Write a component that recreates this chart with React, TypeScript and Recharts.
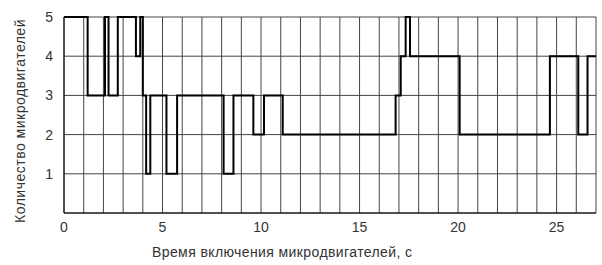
import { LineChart, Line, XAxis, YAxis, CartesianGrid } from 'recharts';

// switch-on times (s) and number of active micro-thrusters from that moment
const times = [0, 1.2, 2.08, 2.26, 2.73, 3.65, 3.87, 4.0, 4.17, 4.38, 5.2, 5.74, 8.1, 8.6, 9.61, 10.15, 11.1, 16.83, 17.09, 17.34, 17.56, 20.08, 24.66, 26.1, 26.57, 27];
const counts = [5, 3, 5, 3, 5, 4, 5, 3, 1, 3, 1, 3, 1, 3, 2, 3, 2, 3, 4, 5, 4, 2, 4, 2, 4, 4];

const xTicks = Array.from({ length: 28 }, (_, i) => i);
const yTicks = [1, 2, 3, 4, 5];

const xTitle = 'Время включения микродвигателей, с';
const yTitle = 'Количество микродвигателей';

const FONT = '"Liberation Sans", Arial, sans-serif';
const INK = '#333';

export default function App() {
  const data = times.map((t, i) => ({ t, n: counts[i] }));

  return (
    <div style={{ position: 'absolute', left: 0, top: 0, width: 602, height: 265, background: '#fff', fontFamily: FONT }}>
      <LineChart width={602} height={265} data={data} margin={{ top: 17, right: 6, bottom: 0, left: 0 }}>
        <CartesianGrid stroke="#444" strokeWidth={1} ticks={xTicks as any} />
        <XAxis
          dataKey="t"
          type="number"
          domain={[0, 27]}
          ticks={xTicks}
          interval={0}
          tickFormatter={(v: number) => (v % 5 === 0 ? String(v) : '')}
          height={52}
          tickLine={false}
          tickSize={0}
          tickMargin={9}
          axisLine={{ stroke: '#000' }}
          tick={{ fontSize: 14, fill: INK, fontFamily: FONT }}
        />
        <YAxis
          type="number"
          domain={[0, 5]}
          ticks={yTicks}
          width={64}
          tickLine={false}
          tickSize={0}
          tickMargin={11}
          axisLine={{ stroke: '#000' }}
          tick={{ fontSize: 14, fill: INK, fontFamily: FONT }}
        />
        <Line
          type="stepAfter"
          dataKey="n"
          stroke="#000"
          strokeWidth={2}
          dot={false}
          isAnimationActive={false}
        />
      </LineChart>
      <div
        style={{
          position: 'absolute',
          left: 20,
          top: 121,
          transform: 'translate(-50%, -50%) rotate(-90deg)',
          whiteSpace: 'nowrap',
          fontSize: 14,
          letterSpacing: 0.5,
          color: INK,
        }}
      >
        {yTitle}
      </div>
      <div
        style={{
          position: 'absolute',
          left: 152,
          top: 244,
          whiteSpace: 'nowrap',
          fontSize: 14,
          letterSpacing: 0.4,
          color: INK,
        }}
      >
        {xTitle}
      </div>
    </div>
  );
}
